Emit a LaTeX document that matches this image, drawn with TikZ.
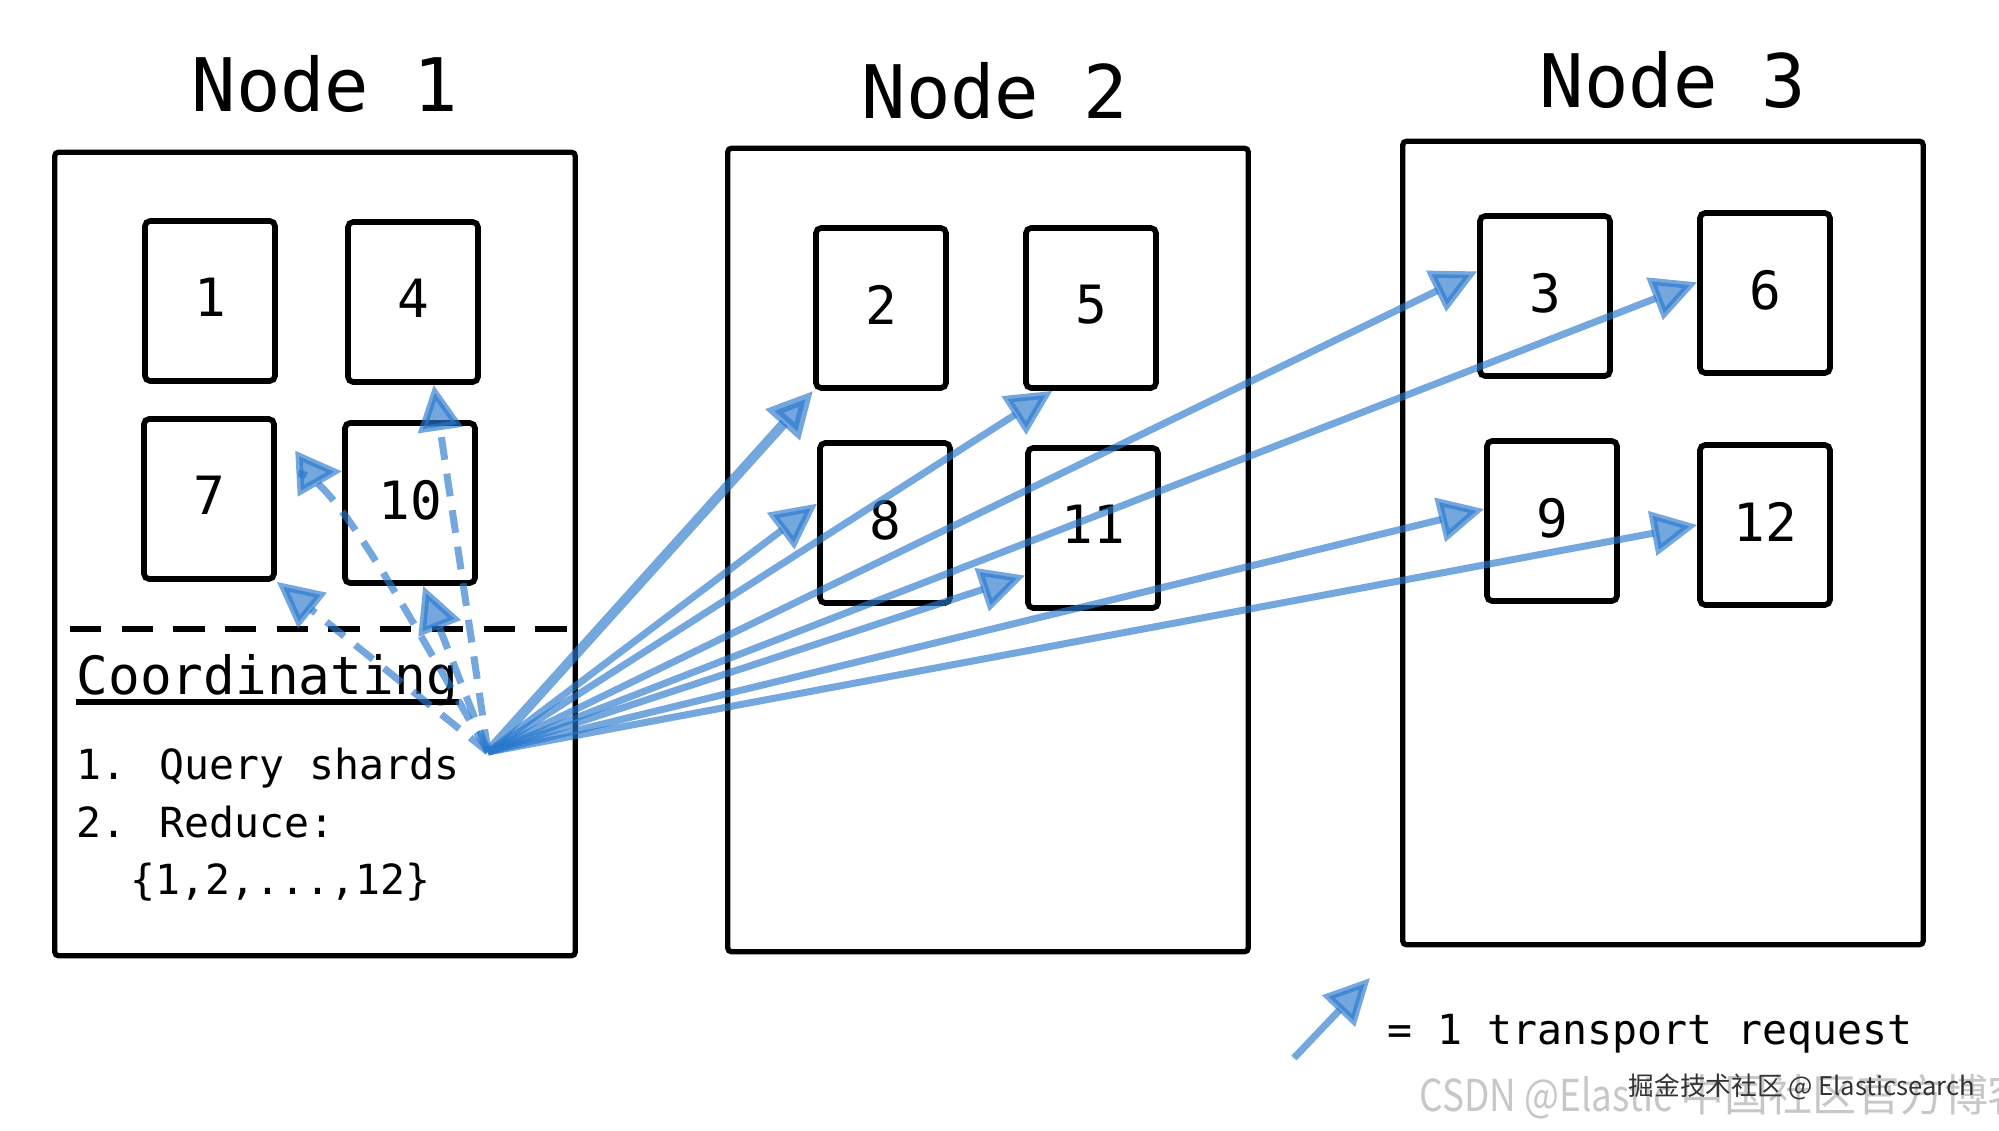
\documentclass[tikz,border=0pt]{standalone}
\usepackage{fontspec}
\usepackage{graphicx}
\setmainfont{DejaVu Sans Mono}
\newfontfamily\cjk{Noto Sans CJK SC}
\usetikzlibrary{arrows.meta}
\definecolor{reqblue}{RGB}{40,120,205}
\tikzset{
  esnode/.style={draw,line width=1.5pt,rounded corners=1pt,minimum width=5.2cm,minimum height=8.03cm},
  shard/.style={draw,line width=1.6pt,rounded corners=1.5pt,minimum width=1.3cm,minimum height=1.6cm,font=\fontsize{15}{18}\selectfont},
  nodetitle/.style={anchor=base,inner sep=0pt,font=\fontsize{21}{25}\selectfont},
  txt/.style={anchor=base west,inner sep=0pt,font=\fontsize{11.8}{14}\selectfont},
  req/.style={reqblue,opacity=.65,line width=2pt,-{Triangle[length=13pt,width=12.5pt]}},
  localreq/.style={req,dash pattern=on 6.5pt off 4pt}
}
\begin{document}
\begin{tikzpicture}[x=0.01cm,y=-0.01cm]
\useasboundingbox (0,0) rectangle (1999,1131);
% cluster nodes
\node[esnode](n1) at (315,554){};\node[esnode](n2) at (988,550){};\node[esnode](n3) at (1663,543){};
\node[nodetitle](t1) at (325,112){Node 1};\node[nodetitle](t2) at (995,119){Node 2};\node[nodetitle](t3) at (1673,108){Node 3};
% shards
\foreach \n/\x/\y in {1/210/301,4/413/302,7/209/499,10/410/503,2/881/308,5/1091/308,8/885/523,11/1093/528,3/1545/296,6/1765/293,9/1552/521,12/1765/525}
  \node[shard](s\n) at (\x,\y){\raisebox{2pt}{\n}};
% coordinating part
\coordinate(d0) at (70,629);\coordinate(d1) at (567,629);
\draw[line width=1.8pt,dash pattern=on 8.9pt off 5.8pt](d0)--(d1);
\node[txt,font=\fontsize{15}{18}\selectfont](crd) at (76,695){Coordinating};
\draw[line width=1.5pt]([yshift=-2pt]crd.base west)--([yshift=-2pt]crd.base east);
\node[txt](i1) at (76,780){1. Query shards};
\node[txt](i2) at (76,838){2. Reduce:};
\node[txt](i3) at (130,895){\{1,2,...,12\}};
% transport requests
\coordinate(q) at (488,752);
\draw[req,line width=2.8pt](q)--(s2.south west);
\foreach \t in {s5.-115,s8.164,s11.215,s3.160,s6.171,s9.170,s12.west}\draw[req](q)--(\t);
\foreach \t in {s7.south east,s10.-81,s4.-76}\draw[localreq](q)--(\t);
\draw[localreq](q)..controls(400,600)and(330,472)..(s10.155);
% legend
\coordinate(l0) at (1294,1058);\coordinate(l1) at (1370,978);
\draw[req](l0)--(l1);
\node[txt](leg) at (1387,1045){= 1 transport request};
% watermark
\node[anchor=base west,inner sep=0pt,text=black!22,font=\cjk\fontsize{12.5}{15}\selectfont](wm1) at (1419,1112){\scalebox{.84}[1]{CSDN @Elastic }中国社区官方博客};
\node[anchor=west,inner sep=0pt,text=black!80,font=\cjk\fontsize{7.3}{9}\selectfont](wm2) at (1628,1087){掘金技术社区 @ Elasticsearch};
\end{tikzpicture}
\end{document}
